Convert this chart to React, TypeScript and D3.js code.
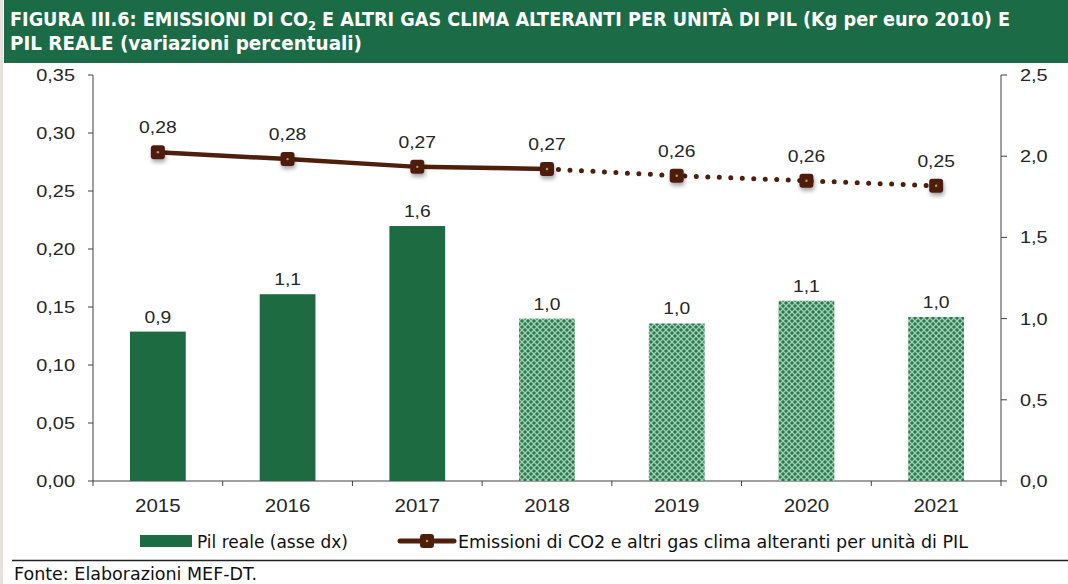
import React from "react";
import * as d3 from "d3";

const years = ["2015", "2016", "2017", "2018", "2019", "2020", "2021"];
const pilReale = [0.92, 1.15, 1.57, 1.0, 0.97, 1.11, 1.01];
const pilLabels = ["0,9", "1,1", "1,6", "1,0", "1,0", "1,1", "1,0"];
const emissioni = [0.2835, 0.2775, 0.2708, 0.269, 0.2632, 0.2588, 0.2545];
const emissioniLabels = ["0,28", "0,28", "0,27", "0,27", "0,26", "0,26", "0,25"];
const forecastFrom = 3; // index of 2018
const leftTicks = [0, 0.05, 0.1, 0.15, 0.2, 0.25, 0.3, 0.35];
const rightTicks = [0, 0.5, 1.0, 1.5, 2.0, 2.5];

const W = 1068, H = 584;
const x0 = 93, x1 = 1001, yTop = 75, yBot = 481;
const GREEN = "#1d6b40";
const BROWN = "#4e1f0c";
const AXIS = "#404040";
const TXT = "#262626";
const sans = "'Liberation Sans', Arial, sans-serif";
const narrow = "'DejaVu Sans Condensed', 'Liberation Sans Narrow', sans-serif";

function T({ x, y, anchor = "middle", size = 17, children }: any) {
  return (
    <text
      transform={`translate(${x},${y}) scale(1.17,1)`}
      textAnchor={anchor}
      fontFamily={sans}
      fontSize={size}
      fill={TXT}
    >
      {children}
    </text>
  );
}

export default function App() {
  const x = d3.scaleBand<string>().domain(years).range([x0, x1]).paddingInner(0).paddingOuter(0);
  const yL = d3.scaleLinear().domain([0, 0.35]).range([yBot, yTop]);
  const yR = d3.scaleLinear().domain([0, 2.5]).range([yBot, yTop]);
  const fmt2 = (v: number) => d3.format(".2f")(v).replace(".", ",");
  const fmt1 = (v: number) => d3.format(".1f")(v).replace(".", ",");
  const bw = x.bandwidth() * 0.43;
  const cx = (y: string) => (x(y) as number) + x.bandwidth() / 2;

  const line = d3.line<number>().x((_, i) => cx(years[i])).y((d) => yL(d));
  const solidPath = line(emissioni.slice(0, forecastFrom + 1)) as string;
  const dottedLine = d3.line<number>().x((_, i) => cx(years[i + forecastFrom])).y((d) => yL(d));
  const dottedPath = dottedLine(emissioni.slice(forecastFrom)) as string;

  return (
    <svg width={W} height={H} style={{ position: "absolute", left: 0, top: 0, background: "#fff" }}>
      <defs>
        <pattern id="hatch" width="6" height="6" patternUnits="userSpaceOnUse">
          <rect width="6" height="6" fill="#2b7a4f" />
          <path d="M0,0 L6,6 M6,0 L0,6" stroke="#9fd0b1" strokeWidth="1.3" />
        </pattern>
        <filter id="shadow" x="-50%" y="-50%" width="200%" height="200%">
          <feDropShadow dx="1" dy="3" stdDeviation="2" floodColor="#000" floodOpacity="0.35" />
        </filter>
      </defs>
      <rect x={0} y={0} width={3} height={H} fill="#e6e2de" />
      <rect x={4} y={0} width={W - 4} height={63} fill="#1b6b47" />
      <text x={10} y={26} fill="#fff" fontFamily={narrow} fontWeight="bold" fontSize={20}
        textLength={1000} lengthAdjust="spacingAndGlyphs">
        FIGURA III.6: EMISSIONI DI CO<tspan fontSize={13} dy={4}>2</tspan><tspan dy={-4}> E ALTRI GAS CLIMA ALTERANTI PER UNITÀ DI PIL (Kg per euro 2010) E</tspan>
      </text>
      <text x={10} y={50} fill="#fff" fontFamily={narrow} fontWeight="bold" fontSize={20}
        textLength={352} lengthAdjust="spacingAndGlyphs">
        PIL REALE (variazioni percentuali)
      </text>

      {/* axes */}
      <line x1={x0} x2={x0} y1={yTop} y2={yBot} stroke={AXIS} />
      <line x1={x1} x2={x1} y1={yTop} y2={yBot} stroke={AXIS} />
      <line x1={x0} x2={x1} y1={yBot} y2={yBot} stroke={AXIS} />
      {leftTicks.map((t) => (
        <g key={"l" + t}>
          <line x1={x0 - 5} x2={x0} y1={yL(t)} y2={yL(t)} stroke={AXIS} />
          <T x={x0 - 18} y={yL(t) + 6} anchor="end">{fmt2(t)}</T>
        </g>
      ))}
      {rightTicks.map((t) => (
        <g key={"r" + t}>
          <line x1={x1} x2={x1 + 6} y1={yR(t)} y2={yR(t)} stroke={AXIS} />
          <T x={x1 + 19} y={yR(t) + 6} anchor="start">{fmt1(t)}</T>
        </g>
      ))}
      {years.map((y, i) => (
        <g key={"x" + y}>
          <line x1={x(y) as number} x2={x(y) as number} y1={yBot} y2={yBot + 5} stroke={AXIS} />
          {i === years.length - 1 && <line x1={x1} x2={x1} y1={yBot} y2={yBot + 5} stroke={AXIS} />}
          <T x={cx(y)} y={yBot + 31} size={17.5}>{y}</T>
        </g>
      ))}

      {/* bars */}
      {years.map((y, i) => (
        <g key={"b" + y}>
          <rect
            x={cx(y) - bw / 2}
            y={yR(pilReale[i])}
            width={bw}
            height={yBot - yR(pilReale[i])}
            fill={i >= forecastFrom ? "url(#hatch)" : GREEN}
          />
          <T x={cx(y)} y={yR(pilReale[i]) - 9} size={16.5}>{pilLabels[i]}</T>
        </g>
      ))}

      {/* line */}
      <path d={solidPath} fill="none" stroke={BROWN} strokeWidth={4.5} />
      <path d={dottedPath} fill="none" stroke={BROWN} strokeWidth={5} strokeDasharray="0 11.5" strokeLinecap="round" />
      {years.map((y, i) => (
        <g key={"m" + y}>
          <rect x={cx(y) - 7} y={yL(emissioni[i]) - 7} width={14} height={14} rx={3} fill={BROWN} filter="url(#shadow)" />
          <circle cx={cx(y)} cy={yL(emissioni[i])} r={1.2} fill="#b9a44a" />
          <T x={cx(y)} y={yL(emissioni[i]) - 19} size={16.5}>{emissioniLabels[i]}</T>
        </g>
      ))}

      {/* legend */}
      <rect x={140} y={535} width={52} height={12} fill={GREEN} />
      <text x={197} y={548} fontFamily={narrow} fontSize={18} fill="#111"
        textLength={151} lengthAdjust="spacingAndGlyphs">Pil reale (asse dx)</text>
      <line x1={400} x2={454} y1={541} y2={541} stroke={BROWN} strokeWidth={5} strokeLinecap="round" />
      <rect x={420} y={534} width={14} height={14} rx={3} fill={BROWN} />
      <circle cx={427} cy={541} r={1.2} fill="#b9a44a" />
      <text x={458} y={548} fontFamily={narrow} fontSize={18} fill="#111"
        textLength={510} lengthAdjust="spacingAndGlyphs">
        Emissioni di CO2 e altri gas clima alteranti per unità di PIL
      </text>

      <line x1={12} x2={W} y1={560.5} y2={560.5} stroke="#222" strokeWidth={1.3} />
      <text x={14} y={580} fontFamily="'DejaVu Sans', Verdana, sans-serif" fontSize={17.5} fill="#111">
        Fonte: Elaborazioni MEF-DT.
      </text>
    </svg>
  );
}
